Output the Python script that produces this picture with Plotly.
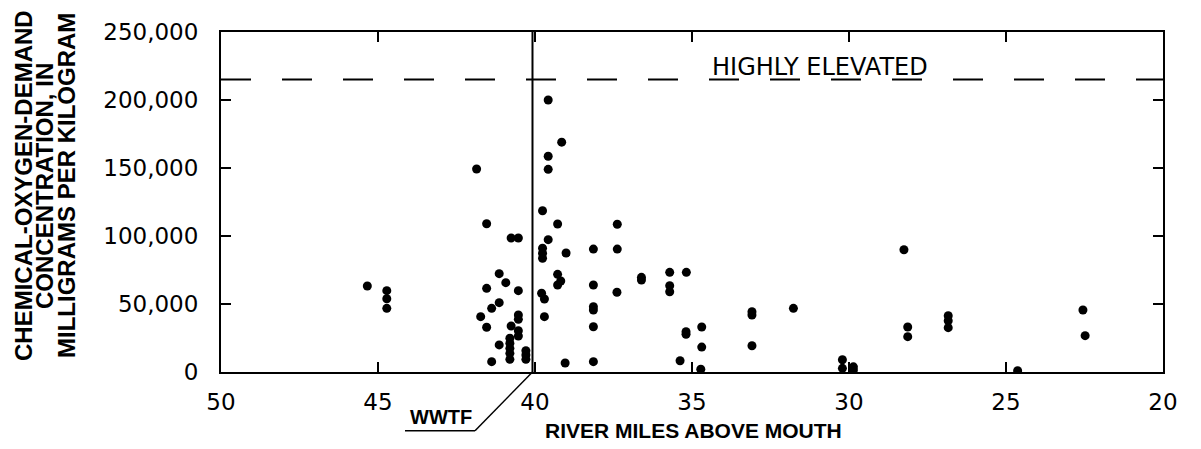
import plotly.graph_objects as go

# Sample data
river_mile = [45.34, 44.72, 44.72, 44.72,
              41.86, 41.73, 41.54, 41.54, 41.54, 41.38, 41.38,
              41.14, 41.14, 41.14, 40.93,
              40.76, 40.76, 40.80, 40.80, 40.80, 40.80, 40.80,
              40.53, 40.53, 40.53, 40.53, 40.53, 40.53,
              40.29, 40.29, 40.29,
              39.79, 39.70, 39.70, 39.76, 39.76, 39.76, 39.76,
              39.58, 39.58, 39.58, 39.58,
              39.28, 39.28, 39.28, 39.18, 39.15, 39.01, 39.04,
              38.14, 38.14, 38.14, 38.14, 38.14, 38.14,
              37.38, 37.38, 37.39, 36.61, 36.61,
              35.71, 35.71, 35.71, 35.18, 35.19, 35.19, 35.38,
              34.69, 34.69, 34.72,
              33.09, 33.09, 33.09, 31.77,
              30.21, 30.21, 29.86, 29.86,
              28.25, 28.13, 28.13, 26.84, 26.84, 26.84,
              24.63, 22.55, 22.48]
cod_mg_kg = [63200, 59800, 53900, 46800,
             149300, 40700, 109000, 61500, 32900, 46800, 7600,
             72300, 51000, 19900, 65700,
             98500, 33800, 24800, 21100, 17400, 13700, 9300,
             98500, 59800, 41900, 38700, 30400, 26500,
             15700, 12500, 9300,
             57900, 53700, 40700, 118600, 91000, 87300, 83600,
             200000, 158600, 149000, 97300,
             108800, 71800, 64000, 66900, 169000, 87500, 6600,
             90400, 64000, 48000, 45600, 33300, 7600,
             108600, 90400, 58600, 69600, 67600,
             73300, 63500, 59000, 73300, 29600, 27700, 8300,
             33100, 18300, 2000,
             44300, 41900, 19300, 46800,
             9000, 2700, 3800, 1500,
             89900, 33100, 26000, 41400, 37700, 32600,
             1000, 45600, 26700]

x_ticks = [50, 45, 40, 35, 30, 25, 20]
y_ticks = [0, 50000, 100000, 150000, 200000, 250000]
y_tick_labels = ["0", "50,000", "100,000", "150,000", "200,000", "250,000"]

highly_elevated_level = 215000
wwtf_mile = 40.08

tick_font = dict(family="DejaVu Sans", size=23, color="black")
bold_font = "Liberation Sans"

fig = go.Figure()
fig.add_trace(go.Scatter(
    x=river_mile, y=cod_mg_kg, mode="markers",
    marker=dict(color="black", size=9, line=dict(width=0)),
    showlegend=False, hoverinfo="x+y"))

fig.update_layout(
    width=1201, height=449,
    margin=dict(l=221, r=38, t=32, b=77),
    paper_bgcolor="white", plot_bgcolor="white",
)
fig.update_xaxes(
    range=[50, 20], tickvals=x_ticks, ticktext=[str(v) for v in x_ticks],
    showgrid=False, zeroline=False,
    showline=True, linecolor="black", linewidth=2, mirror="ticks",
    ticks="inside", ticklen=10, tickwidth=2, tickcolor="black",
    tickfont=tick_font, ticklabelstandoff=8,
)
fig.update_yaxes(
    range=[0, 250000], tickvals=y_ticks, ticktext=y_tick_labels,
    showgrid=False, zeroline=False,
    showline=True, linecolor="black", linewidth=2, mirror="ticks",
    ticks="inside", ticklen=10, tickwidth=2, tickcolor="black",
    tickfont=tick_font, ticklabelstandoff=16,
)

# Highly elevated dashed line
fig.add_shape(type="line", xref="x", yref="y", x0=50, x1=20,
              y0=highly_elevated_level, y1=highly_elevated_level,
              line=dict(color="black", width=2, dash="30px,31px"))
fig.add_annotation(xref="x", yref="y", x=30.92, y=highly_elevated_level,
                   yshift=13, text="HIGHLY ELEVATED", showarrow=False,
                   font=dict(family="DejaVu Sans", size=24, color="black"))

# WWTF vertical line and leader
fig.add_shape(type="line", xref="x", yref="paper", x0=wwtf_mile, x1=wwtf_mile,
              y0=0, y1=1, line=dict(color="black", width=2))
fig.add_shape(type="line", xref="x", yref="paper", x0=wwtf_mile, x1=41.91,
              y0=0, y1=-0.1726, line=dict(color="black", width=1.5))
fig.add_shape(type="line", xref="x", yref="paper", x0=41.91, x1=44.14,
              y0=-0.1726, y1=-0.1726, line=dict(color="black", width=1.5))
fig.add_annotation(xref="x", yref="paper", x=43.0, y=-0.1726, yanchor="bottom",
                   yshift=1, text="<b>WWTF</b>", showarrow=False,
                   font=dict(family=bold_font, size=20, color="black"))

# Axis titles
fig.add_annotation(xref="paper", yref="paper", x=(693 - 221) / 942, y=(372 - 430) / 340,
                   text="<b>RIVER MILES ABOVE MOUTH</b>", showarrow=False,
                   xanchor="center", yanchor="middle",
                   font=dict(family=bold_font, size=21, color="black"))
y_title_lines = ["CHEMICAL-OXYGEN-DEMAND", "CONCENTRATION, IN", "MILLIGRAMS PER KILOGRAM"]
y_title_px = [24, 45, 67]
for line, px in zip(y_title_lines, y_title_px):
    fig.add_annotation(xref="paper", yref="paper", x=(px - 221) / 942, y=(372 - 186) / 340,
                       text="<b>" + line + "</b>", showarrow=False, textangle=-90,
                       xanchor="center", yanchor="middle",
                       font=dict(family=bold_font, size=24, color="black"))

fig.write_html("out.html")
